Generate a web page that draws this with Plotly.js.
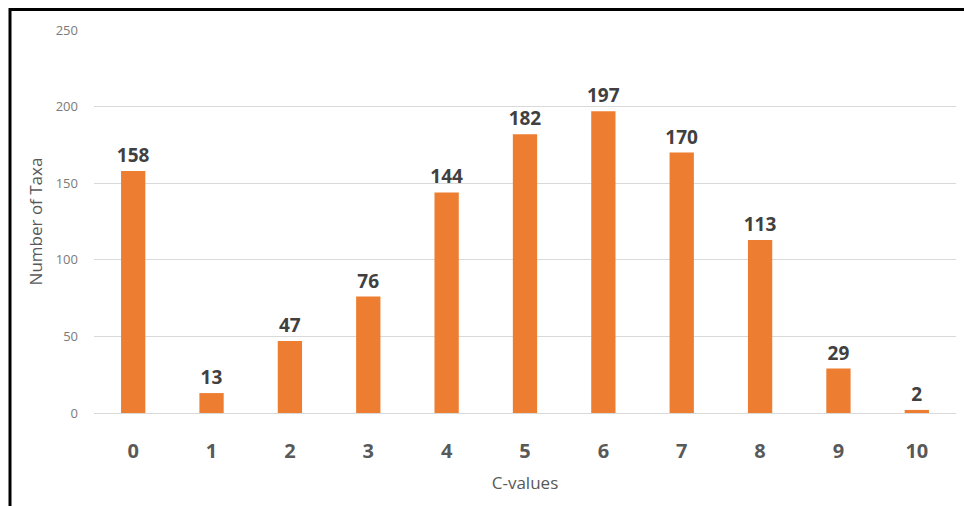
<!DOCTYPE html>
<html>
<head>
<meta charset="utf-8">
<script src="https://cdn.plot.ly/plotly-3.0.1.min.js"></script>
<style>
html,body{margin:0;padding:0;background:#fff;}
#chart{width:964px;height:506px;}
</style>
</head>
<body>
<div id="chart"></div>
<script>
const categories = ["0","1","2","3","4","5","6","7","8","9","10"];
const taxaCounts = [158, 13, 47, 76, 144, 182, 197, 170, 113, 29, 2];
const yTicks = [0, 50, 100, 150, 200, 250];

const FONT = '"Open Sans", "Noto Sans", sans-serif';

const trace = {
  type: 'bar',
  x: categories,
  y: taxaCounts,
  marker: {color: '#ED7D31'},
  text: taxaCounts.map(String),
  textposition: 'outside',
  constraintext: 'none',
  textfont: {family: FONT, size: 19, color: '#404040', weight: 'bold'},
  cliponaxis: false,
  hoverinfo: 'none'
};

const layout = {
  width: 964, height: 506,
  margin: {l: 94, r: 8, t: 30, b: 93},
  paper_bgcolor: '#ffffff',
  plot_bgcolor: '#ffffff',
  bargap: 0.69,
  showlegend: false,
  font: {family: FONT},
  uniformtext: {mode: false},
  xaxis: {
    type: 'category',
    tickfont: {family: FONT, size: 20, color: '#595959', weight: 'bold'},
    ticks: '', showline: false, showgrid: false, zeroline: false,
    ticklabelstandoff: 24,
    title: {text: 'C-values', font: {family: FONT, size: 17, color: '#595959'}, standoff: 14}
  },
  yaxis: {
    range: [0, 250],
    tickvals: yTicks,
    ticktext: yTicks.map(String),
    tickfont: {family: FONT, size: 13, color: '#7a7a7a'},
    ticks: '', ticklen: 0,
    showgrid: true, gridcolor: '#D9D9D9', gridwidth: 1,
    zeroline: true, zerolinecolor: '#D9D9D9', zerolinewidth: 1,
    showline: false,
    ticklabelstandoff: 15,
    title: {text: 'Number of Taxa', font: {family: FONT, size: 17, color: '#595959'}, standoff: 8}
  },
  shapes: [
    {type: 'line', xref: 'paper', yref: 'paper',
     x0: (10 - 94) / 862, x1: (975 - 94) / 862,
     y0: (413 - 9.5) / 383, y1: (413 - 9.5) / 383,
     line: {color: '#000000', width: 3}},
    {type: 'line', xref: 'paper', yref: 'paper',
     x0: (10 - 94) / 862, x1: (10 - 94) / 862,
     y0: (413 - 8) / 383, y1: (413 - 520) / 383,
     line: {color: '#000000', width: 3}}
  ]
};

Plotly.newPlot('chart', [trace], layout, {displayModeBar: false, staticPlot: true});
</script>
</body>
</html>
